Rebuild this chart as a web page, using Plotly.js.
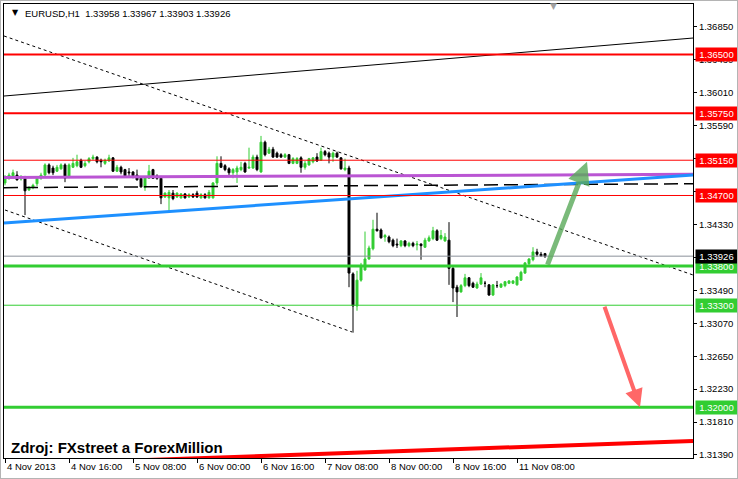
<!DOCTYPE html>
<html><head><meta charset="utf-8">
<script src="https://cdn.plot.ly/plotly-3.0.1.min.js"></script>
<style>
html,body{margin:0;padding:0;background:#fff}
#wrap{position:relative;width:738px;height:479px}
#chart{width:738px;height:479px}
#frame{position:absolute;left:0;top:0;width:736px;height:477px;border:1px solid #b4b4b4;pointer-events:none}
</style>
</head><body><div id="wrap"><div id="chart"></div><div id="frame"></div></div>
<script>
// ---- candle data (EURUSD H1, from 4 Nov 2013 00:00) ----
const open = [
1.3486,1.3492,1.3494,1.3496,1.3491,1.3492,1.3477,1.3480,1.3485,1.3492,
1.3496,1.3509,1.3505,1.3501,1.3504,1.3509,1.3494,1.3506,1.3508,1.3515,
1.3508,1.3513,1.3517,1.3519,1.3515,1.3511,1.3514,1.3518,1.3501,1.3506,
1.3503,1.3500,1.3500,1.3496,1.3492,1.3480,1.3492,1.3503,1.3495,1.3492,
1.3468,1.3467,1.3473,1.3468,1.3467,1.3472,1.3468,1.3471,1.3473,1.3467,
1.3471,1.3467,1.3467,1.3486,1.3511,1.3508,1.3504,1.3499,1.3500,1.3503,
1.3511,1.3505,1.3505,1.3519,1.3500,1.3538,1.3524,1.3529,1.3524,1.3522,
1.3519,1.3522,1.3511,1.3511,1.3518,1.3506,1.3509,1.3513,1.3519,1.3515,
1.3526,1.3524,1.3519,1.3524,1.3518,1.3503,1.3505,1.3370,1.3329,1.3362,
1.3375,1.3389,1.3402,1.3427,1.3426,1.3417,1.3417,1.3413,1.3408,1.3406,
1.3412,1.3406,1.3409,1.3407,1.3408,1.3404,1.3412,1.3415,1.3425,1.3415,
1.3412,1.3413,1.3377,1.3353,1.3347,1.3355,1.3365,1.3358,1.3352,1.3357,
1.3358,1.3356,1.3343,1.3355,1.3353,1.3355,1.3358,1.3358,1.3356,1.3362,
1.3371,1.3383,1.3388,1.3398,1.3395,1.33958];
const high = [
1.3496,1.3499,1.3503,1.3501,1.3496,1.3495,1.3482,1.3485,1.3494,1.3499,
1.3511,1.3511,1.3508,1.3509,1.3511,1.3511,1.3511,1.3518,1.3522,1.3517,
1.3514,1.3519,1.3522,1.3520,1.3517,1.3517,1.3522,1.3519,1.3509,1.3508,
1.3504,1.3505,1.3501,1.3503,1.3494,1.3495,1.3509,1.3504,1.3497,1.3495,
1.3474,1.3477,1.3477,1.3474,1.3473,1.3473,1.3473,1.3473,1.3476,1.3473,
1.3473,1.3477,1.3487,1.3520,1.3520,1.3510,1.3506,1.3505,1.3508,1.3513,
1.3513,1.3531,1.3522,1.3522,1.3546,1.3540,1.3532,1.3532,1.3526,1.3524,
1.3524,1.3523,1.3519,1.3519,1.3520,1.3514,1.3518,1.3519,1.3524,1.3531,
1.3528,1.3526,1.3526,1.3526,1.3519,1.3517,1.3508,1.3372,1.3374,1.3384,
1.3424,1.3406,1.3439,1.3448,1.3428,1.3421,1.3419,1.3415,1.3415,1.3413,
1.3413,1.3411,1.3411,1.3412,1.3409,1.3416,1.3419,1.3430,1.3427,1.3426,
1.3422,1.3436,1.3380,1.3356,1.3357,1.3370,1.3366,1.3360,1.3360,1.3371,
1.3361,1.3357,1.3357,1.3361,1.3358,1.3361,1.3362,1.3362,1.3367,1.3374,
1.3385,1.3390,1.3404,1.3402,1.3398,1.33967];
const low = [
1.3483,1.3490,1.3492,1.3489,1.3489,1.3445,1.3476,1.3478,1.3482,1.3490,
1.3495,1.3497,1.3496,1.3500,1.3503,1.3487,1.3492,1.3505,1.3506,1.3505,
1.3506,1.3511,1.3515,1.3511,1.3506,1.3509,1.3513,1.3500,1.3500,1.3497,
1.3494,1.3494,1.3492,1.3489,1.3480,1.3476,1.3491,1.3491,1.3490,1.3459,
1.3467,1.3448,1.3464,1.3467,1.3466,1.3466,1.3467,1.3467,1.3467,1.3466,
1.3466,1.3466,1.3466,1.3483,1.3505,1.3501,1.3496,1.3492,1.3486,1.3501,
1.3499,1.3504,1.3504,1.3501,1.3499,1.3520,1.3523,1.3518,1.3518,1.3518,
1.3518,1.3510,1.3510,1.3510,1.3499,1.3503,1.3508,1.3511,1.3513,1.3514,
1.3520,1.3511,1.3513,1.3518,1.3503,1.3501,1.3353,1.3295,1.3323,1.3360,
1.3374,1.3388,1.3400,1.3424,1.3415,1.3411,1.3409,1.3404,1.3403,1.3404,
1.3404,1.3404,1.3404,1.3400,1.3388,1.3403,1.3411,1.3413,1.3412,1.3413,
1.3411,1.3356,1.3334,1.3315,1.3346,1.3353,1.3353,1.3352,1.3351,1.3356,
1.3353,1.3342,1.3342,1.3352,1.3352,1.3353,1.3357,1.3357,1.3355,1.3361,
1.3370,1.3381,1.3386,1.3392,1.3392,1.33903];
const close = [
1.3494,1.3496,1.3499,1.3490,1.3494,1.3476,1.3480,1.3483,1.3492,1.3496,
1.3509,1.3499,1.3499,1.3506,1.3509,1.3492,1.3509,1.3511,1.3513,1.3506,
1.3511,1.3517,1.3519,1.3513,1.3513,1.3515,1.3518,1.3501,1.3506,1.3500,
1.3495,1.3499,1.3495,1.3490,1.3481,1.3494,1.3501,1.3492,1.3492,1.3467,
1.3473,1.3474,1.3466,1.3473,1.3472,1.3467,1.3471,1.3468,1.3468,1.3471,
1.3467,1.3474,1.3486,1.3511,1.3506,1.3503,1.3499,1.3503,1.3505,1.3506,
1.3500,1.3506,1.3519,1.3503,1.3538,1.3522,1.3529,1.3519,1.3519,1.3519,
1.3522,1.3511,1.3517,1.3517,1.3506,1.3511,1.3517,1.3518,1.3514,1.3526,
1.3522,1.3519,1.3524,1.3519,1.3504,1.3505,1.3371,1.3329,1.3362,1.3381,
1.3389,1.3403,1.3427,1.3425,1.3416,1.3419,1.3411,1.3406,1.3407,1.3412,
1.3406,1.3409,1.3406,1.3408,1.3406,1.3413,1.3416,1.3425,1.3413,1.3419,
1.3417,1.3377,1.3352,1.3347,1.3355,1.3365,1.3355,1.3353,1.3357,1.3365,
1.3358,1.3343,1.3356,1.3355,1.3357,1.3360,1.3361,1.3361,1.3366,1.3372,
1.3384,1.3389,1.3398,1.3395,1.3393,1.33926];

// ---- axes ----
const xTickIdx  = [0,16,32,48,64,80,96,112,128];
const xTickText = ['4 Nov 2013','4 Nov 16:00','5 Nov 08:00','6 Nov 00:00','6 Nov 16:00','7 Nov 08:00','8 Nov 00:00','8 Nov 16:00','11 Nov 08:00'];
const yTickVals = [1.3685,1.3643,1.3601,1.3559,1.3517,1.3475,1.3433,1.3391,1.3349,1.3307,1.3265,1.3223,1.3181,1.3139];
const yTickHidden = [1.3517, 1.3391];   // fully covered by level labels in the original
const xRange = [-0.25, 172];
const yRange = [1.31351, 1.37143];

// ---- horizontal levels ----
const levelPrices = [1.3650, 1.3575, 1.3515, 1.3470, 1.3380, 1.3330, 1.3200];
const levelColors = ['#FF0000','#FF0000','#FF0000','#FF0000','#32CD32','#32CD32','#32CD32'];
const levelWidths = [2, 2, 1, 1, 3, 1, 3];
const bidPrice = 1.33926;

// ---- drawn trend lines (bar index, price) ----
const topLineX = [-0.25, 172],   topLineY = [1.35969, 1.36709];
const upperDotX = [-0.25, 172],  upperDotY = [1.36735, 1.33686];
const lowerDotX = [0, 86.75],    lowerDotY = [1.34515, 1.32959];
const purpleX = [-0.25, 172],    purpleY = [1.3493, 1.3497];
const dashedX = [-0.25, 172],    dashedY = [1.3480, 1.3485];
const blueX = [-0.25, 172],      blueY = [1.3435, 1.3496];
const redTrendX = [-0.25, 172],  redTrendY = [1.31262, 1.31568];
const upArrowX = [135.5, 145.5], upArrowY = [1.3380, 1.3513];
const downArrowX = [149.75, 158.75], downArrowY = [1.3330, 1.3200];

const idx = open.map((_, i) => i);
const FONT = 'Liberation Sans, Arial, sans-serif';

function line(x, y, color, width, dash) {
  return {type:'scatter', mode:'lines', x:x, y:y, hoverinfo:'skip', showlegend:false,
          line:{color:color, width:width, dash:dash || 'solid'}};
}

const traces = [
  {type:'candlestick', x:idx, open:open, high:high, low:low, close:close,
   increasing:{line:{color:'#32CD32', width:1}, fillcolor:'#32CD32'},
   decreasing:{line:{color:'#000000', width:1}, fillcolor:'#000000'},
   whiskerwidth:0, hoverinfo:'skip', showlegend:false},
  line(topLineX, topLineY, '#000000', 1),
  line(upperDotX, upperDotY, '#000000', 1, 'dot'),
  line(lowerDotX, lowerDotY, '#000000', 1, 'dot'),
  line(purpleX, purpleY, '#BA55D3', 3),
  line(dashedX, dashedY, '#000000', 1.5, '14px,6px'),
  line(blueX, blueY, '#1E90FF', 3),
  line(redTrendX, redTrendY, '#FF0000', 4)
];

const shapes = levelPrices.map((p, i) => ({
  type:'line', xref:'paper', x0:0, x1:1, yref:'y', y0:p, y1:p, layer:'above',
  line:{color:levelColors[i], width:levelWidths[i]}
}));
shapes.push({type:'line', xref:'paper', x0:0, x1:1, yref:'y', y0:bidPrice, y1:bidPrice, layer:'above',
  line:{color:'#8a9099', width:1}});

const annotations = [];
xTickIdx.forEach((t, i) => annotations.push({
  x:t, xref:'x', y:0, yref:'paper', yanchor:'top', xanchor:'left', xshift:0, yshift:-1,
  text:xTickText[i], showarrow:false, font:{family:FONT, size:9.5, color:'#000'}
}));
levelPrices.forEach((p, i) => annotations.push({
  x:1, xref:'paper', y:p, yref:'y', xanchor:'left', yanchor:'middle', xshift:2,
  text:p.toFixed(5), showarrow:false, bgcolor:levelColors[i],
  width:39, height:11, borderpad:1, font:{family:FONT, size:9.5, color:'#FFFFFF'}
}));
annotations.push({
  x:1, xref:'paper', y:bidPrice, yref:'y', xanchor:'left', yanchor:'middle', xshift:2,
  text:bidPrice.toFixed(5), showarrow:false, bgcolor:'#000000',
  width:39, height:11, borderpad:1, font:{family:FONT, size:9.5, color:'#FFFFFF'}
});
annotations.push({
  x:0, xref:'paper', y:1, yref:'paper', xanchor:'left', yanchor:'top', xshift:6, yshift:-2,
  text:'▼', showarrow:false, font:{family:'DejaVu Sans', size:8, color:'#000'}
});
annotations.push({
  x:0, xref:'paper', y:1, yref:'paper', xanchor:'left', yanchor:'top', xshift:19, yshift:-2,
  text:'EURUSD,H1  ' + [open[open.length-1], high[high.length-1], low[low.length-1], close[close.length-1]].map(v => v.toFixed(5)).join(' '),
  showarrow:false, font:{family:FONT, size:9.5, color:'#000'}
});
annotations.push({
  x:137, xref:'x', y:1, yref:'paper', xanchor:'center', yanchor:'top', yshift:5,
  text:'▼', showarrow:false, font:{family:'DejaVu Sans', size:9, color:'#a0a0a0'}
});
annotations.push({
  x:0, xref:'paper', y:0.023, yref:'paper', xanchor:'left', yanchor:'middle', xshift:5,
  text:'<b>Zdroj: FXstreet a ForexMillion</b>', showarrow:false,
  font:{family:FONT, size:15, color:'#000'}
});
annotations.push({
  x:upArrowX[1], y:upArrowY[1], xref:'x', yref:'y', ax:upArrowX[0], ay:upArrowY[0], axref:'x', ayref:'y',
  text:'', showarrow:true, arrowhead:2, arrowsize:0.9, arrowwidth:5, arrowcolor:'rgba(90,170,90,0.8)'
});
annotations.push({
  x:downArrowX[1], y:downArrowY[1], xref:'x', yref:'y', ax:downArrowX[0], ay:downArrowY[0], axref:'x', ayref:'y',
  text:'', showarrow:true, arrowhead:2, arrowsize:0.9, arrowwidth:4, arrowcolor:'rgba(255,95,95,0.95)'
});

const layout = {
  width:738, height:479,
  margin:{l:4, r:45, t:4, b:21, pad:0},
  paper_bgcolor:'#ffffff', plot_bgcolor:'#ffffff',
  showlegend:false,
  xaxis:{type:'linear', range:xRange, fixedrange:true, showgrid:false, zeroline:false,
         rangeslider:{visible:false},
         showline:true, mirror:true, linecolor:'#000', linewidth:1,
         tickmode:'array', tickvals:xTickIdx, ticks:'outside', ticklen:4, tickcolor:'#000',
         showticklabels:false},
  yaxis:{side:'right', range:yRange, fixedrange:true, showgrid:false, zeroline:false,
         showline:true, mirror:true, linecolor:'#000', linewidth:1,
         tickmode:'array', tickvals:yTickVals,
         ticktext:yTickVals.map(v => yTickHidden.includes(v) ? '' : v.toFixed(5)),
         ticks:'outside', ticklen:3, tickcolor:'#000',
         tickfont:{family:FONT, size:9.5, color:'#000'}},
  shapes:shapes,
  annotations:annotations
};

Plotly.newPlot('chart', traces, layout, {staticPlot:true, displayModeBar:false});
</script>
</body></html>
